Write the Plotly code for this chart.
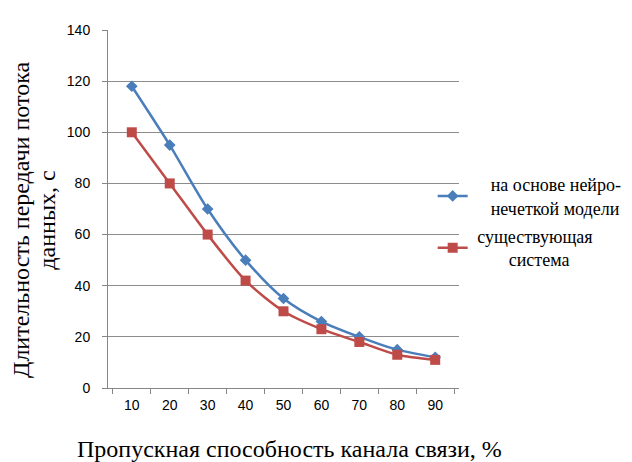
import plotly.graph_objects as go

categories = ["10", "20", "30", "40", "50", "60", "70", "80", "90"]
neuro_fuzzy = [118, 95, 70, 50, 35, 26, 20, 15, 12]
existing = [100, 80, 60, 42, 30, 23, 18, 13, 11]
NB = "\u00a0"
series_names = [
    NB * 4 + "на основе нейро-<br>" + NB * 4 + "нечеткой модели",
    NB + "существующая<br>" + NB * 8 + "система",
]
y_ticks = [0, 20, 40, 60, 80, 100, 120, 140]
x_title = "Пропускная способность канала связи, %"
y_title_lines = ["Длительность передачи потока", "данных, с"]

blue = "#4A7EBB"
red = "#BE4B48"
sans = dict(family="Liberation Sans", size=14, color="#000")
serif = "Liberation Serif"

fig = go.Figure()
fig.add_trace(go.Scatter(
    x=categories, y=neuro_fuzzy, name=series_names[0], mode="lines+markers",
    legendgroup="a",
    line=dict(color=blue, width=2.5, shape="spline", smoothing=0.8),
    marker=dict(symbol="diamond", size=9, color=blue),
))
fig.add_trace(go.Scatter(
    x=categories, y=existing, name=series_names[1], mode="lines+markers",
    legendgroup="b",
    line=dict(color=red, width=2.5, shape="spline", smoothing=0.8),
    marker=dict(symbol="square", size=10, color=red),
))

fig.update_layout(
    width=632, height=462,
    margin=dict(l=100, r=181, t=22, b=82),
    paper_bgcolor="white", plot_bgcolor="white",
    font=dict(family=serif, size=18, color="#000"),
    showlegend=True,
    legend=dict(
        x=0.925, xref="paper", y=0.62, yanchor="top", xanchor="left",
        bgcolor="rgba(0,0,0,0)", tracegroupgap=2, itemwidth=30,
    ),
    xaxis=dict(
        type="category", showline=True, linecolor="#868686", linewidth=1,
        ticks="outside", tickson="boundaries", ticklen=5, tickcolor="#868686",
        showgrid=False, tickfont=sans, ticklabelstandoff=4,
    ),
    yaxis=dict(
        range=[0, 140], tickvals=y_ticks, showline=True, linecolor="#868686",
        linewidth=1, ticks="outside", ticklen=5, tickcolor="#868686",
        showgrid=True, gridcolor="#8C8C8C", gridwidth=1, zeroline=False,
        tickfont=sans, ticklabelstandoff=9,
    ),
    annotations=[
        dict(text=x_title, xref="paper", yref="paper", x=0.518, y=-0.17,
             xanchor="center", yanchor="middle", showarrow=False,
             font=dict(family=serif, size=24)),
        dict(text=y_title_lines[0], xref="paper", yref="paper", x=-0.25, y=0.47,
             xanchor="center", yanchor="middle", showarrow=False, textangle=-90,
             font=dict(family=serif, size=24)),
        dict(text=y_title_lines[1], xref="paper", yref="paper", x=-0.174, y=0.47,
             xanchor="center", yanchor="middle", showarrow=False, textangle=-90,
             font=dict(family=serif, size=24)),
    ],
)

fig.write_html("out.html")
